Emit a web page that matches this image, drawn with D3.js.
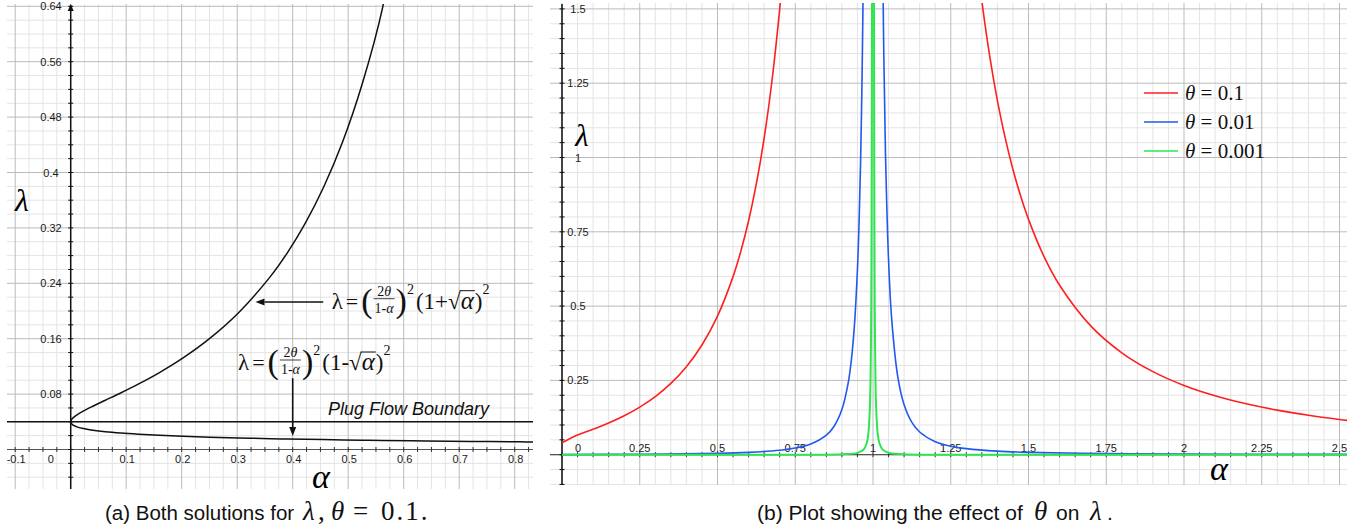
<!DOCTYPE html>
<html>

<head>
  <meta charset="UTF-8">
  <script src="https://d3js.org/d3.v7.min.js"></script>
  <style>
    body { margin: 0; background: #fff; }
  </style>
</head>

<body>
  <div id="chart"></div>

  <script>
    // data

    // (a) both solutions for theta = 0.1
    const leftAlpha = [0, 0.0025, 0.01, 0.0225, 0.04, 0.0625, 0.09, 0.1225, 0.16, 0.2025, 0.25, 0.3025,
      0.36, 0.3906, 0.4225, 0.4556, 0.49, 0.5256, 0.5625, 0.64, 0.7225, 0.81, 0.8464];
    const leftUpper = [0.04, 0.0443, 0.0494, 0.0554, 0.0625, 0.0711, 0.0816, 0.0947, 0.1111, 0.1322, 0.16, 0.1975,
      0.25, 0.2844, 0.3265, 0.3787, 0.4444, 0.5289, 0.64, 1.0, null, null, null];
    const leftLower = [0.04, 0.0363, 0.0331, 0.0302, 0.0278, 0.0256, 0.0237, 0.0220, 0.0204, 0.0190, 0.0178, 0.0167,
      0.0156, 0.0151, 0.0147, 0.0143, 0.0138, 0.0134, 0.0131, 0.0123, 0.0117, 0.0111, 0.0108];
    const plugFlow = 0.04;

    const leftXTicks = [-0.1, 0, 0.1, 0.2, 0.3, 0.4, 0.5, 0.6, 0.7, 0.8];
    const leftXLabels = ['-0.1', '0', '0.1', '0.2', '0.3', '0.4', '0.5', '0.6', '0.7', '0.8'];
    const leftYTicks = [0.08, 0.16, 0.24, 0.32, 0.4, 0.48, 0.56, 0.64];
    const leftYLabels = ['0.08', '0.16', '0.24', '0.32', '0.4', '0.48', '0.56', '0.64'];

    // (b) effect of theta (null = break at the pole)
    const redAlpha = [0, 0.05, 0.1, 0.15, 0.2, 0.25, 0.3, 0.35, 0.4, 0.45, 0.5, 0.55, 0.575, 0.6, 0.625, 0.65, 0.675, 0.7, 0.71,
      null, 1.34, 1.35, 1.375, 1.4, 1.425, 1.45, 1.475, 1.5, 1.55, 1.6, 1.7, 1.8, 1.9, 2.0, 2.1, 2.2, 2.3, 2.4, 2.5, 2.55];
    const redLambda = [0.04, 0.0664, 0.0856, 0.1066, 0.1309, 0.16, 0.1955, 0.2398, 0.2961, 0.3691, 0.4663, 0.5992, 0.6847, 0.7873, 0.9120, 1.0654, 1.2565, 1.4993, 1.6148,
      null, 1.6109, 1.5260, 1.3427, 1.1916, 1.0658, 0.9597, 0.8694, 0.7919, 0.6664, 0.5700, 0.4333, 0.3427, 0.2794, 0.2331, 0.1983, 0.1713, 0.1499, 0.1326, 0.1184, 0.1123];

    const blueAlpha = [0, 0.25, 0.5, 0.6, 0.7, 0.75, 0.8, 0.85, 0.875, 0.9, 0.92, 0.93, 0.94, 0.95, 0.955, 0.96, 0.965, 0.968,
      null, 1.032, 1.035, 1.04, 1.05, 1.06, 1.08, 1.1, 1.125, 1.15, 1.2, 1.25, 1.3, 1.4, 1.5, 1.75, 2.0, 2.5, 2.55];
    const blueLambda = [0.0004, 0.0016, 0.0047, 0.0079, 0.0150, 0.0223, 0.0359, 0.0657, 0.0959, 0.1519, 0.2399, 0.3151, 0.4311, 0.6239, 0.7722, 0.9803, 1.2826, 1.5374,
      null, 1.5882, 1.3288, 1.0203, 0.6557, 0.4578, 0.2599, 0.1679, 0.1087, 0.0764, 0.0439, 0.0287, 0.0204, 0.0119, 0.0079, 0.0038, 0.0023, 0.0012, 0.0011];

    const greenAlpha = [0, 0.5, 0.9, 0.95, 0.97, 0.98, 0.985, 0.99, 0.992, 0.994, 0.995, 0.996, 0.9968,
      null, 1.0032, 1.004, 1.005, 1.006, 1.008, 1.01, 1.015, 1.02, 1.03, 1.05, 1.1, 1.5, 2.55];
    const greenLambda = [0, 0.00005, 0.0015, 0.0062, 0.0175, 0.0396, 0.0705, 0.1594, 0.2488, 0.4444, 0.64, 1.0, 1.5625,
      null, 1.5625, 1.0, 0.64, 0.4444, 0.25, 0.1606, 0.0717, 0.0404, 0.0180, 0.0066, 0.0017, 0.0001, 0];

    const thetaLabels = ['0.1', '0.01', '0.001'];
    const thetaColors = ['#ff1f1f', '#2158f0', '#2ee650'];

    const rightXTicks = [0, 0.25, 0.5, 0.75, 1, 1.25, 1.5, 1.75, 2, 2.25, 2.5];
    const rightXLabels = ['0', '0.25', '0.5', '0.75', '1', '1.25', '1.5', '1.75', '2', '2.25', '2.5'];
    const rightYTicks = [0.25, 0.5, 0.75, 1, 1.25, 1.5];
    const rightYLabels = ['0.25', '0.5', '0.75', '1', '1.25', '1.5'];

    // set up

    const width = 1364, height = 532;
    const sans = '"Liberation Sans", Arial, Helvetica, sans-serif';
    const serif = '"Liberation Serif", "Times New Roman", serif';

    const svg = d3.select('#chart')
      .append('svg')
        .attr('width', width)
        .attr('height', height)
        .style('font-family', sans);

    const leftBox = { x0: 7, x1: 533, y0: 4, y1: 489 };
    const rightBox = { x0: 550, x1: 1347, y0: 3, y1: 485 };

    // scales

    const xL = d3.scaleLinear().domain([0, 0.8]).range([70.7, 514.7]);
    const yL = d3.scaleLinear().domain([0, 0.64]).range([449.5, 6.3]);
    const xR = d3.scaleLinear().domain([0, 2.5]).range([562, 1339.5]);
    const yR = d3.scaleLinear().domain([0, 1.5]).range([454.7, 8.9]);

    // helpers

    function clip(id, box) {
      svg.append('clipPath').attr('id', id)
        .append('rect')
          .attr('x', box.x0).attr('y', box.y0)
          .attr('width', box.x1 - box.x0).attr('height', box.y1 - box.y0);
    }
    clip('clipL', leftBox);
    clip('clipR', rightBox);

    function steps(scale, lo, hi, step) {
      const a = Math.min(scale.invert(lo), scale.invert(hi));
      const b = Math.max(scale.invert(lo), scale.invert(hi));
      const out = [];
      for (let i = Math.ceil(a / step - 1e-9); i * step <= b + 1e-9; i++) out.push({ i, v: i * step });
      return out;
    }

    function grid(g, x, y, box, xMinor, xEvery, yMinor, yEvery) {
      const xs = steps(x, box.x0, box.x1, xMinor);
      const ys = steps(y, box.y1, box.y0, yMinor);
      [false, true].forEach(major => {
        g.append('g')
          .selectAll('line')
          .data(xs.filter(d => (d.i % xEvery === 0) === major))
          .join('line')
            .attr('x1', d => x(d.v)).attr('x2', d => x(d.v))
            .attr('y1', box.y0).attr('y2', box.y1)
            .attr('stroke', major ? '#bbbbbb' : '#e4e4e4')
            .attr('stroke-width', 1);
        g.append('g')
          .selectAll('line')
          .data(ys.filter(d => (d.i % yEvery === 0) === major))
          .join('line')
            .attr('y1', d => y(d.v)).attr('y2', d => y(d.v))
            .attr('x1', box.x0).attr('x2', box.x1)
            .attr('stroke', major ? '#bbbbbb' : '#e4e4e4')
            .attr('stroke-width', 1);
      });
    }

    function axes(g, x, y, box, xMinor, yMinor) {
      // x axis
      g.append('line')
        .attr('x1', box.x0).attr('x2', box.x1)
        .attr('y1', y(0)).attr('y2', y(0))
        .attr('stroke', '#555').attr('stroke-width', 1.2);
      g.append('g')
        .selectAll('line')
        .data(steps(x, box.x0, box.x1, xMinor))
        .join('line')
          .attr('x1', d => x(d.v)).attr('x2', d => x(d.v))
          .attr('y1', y(0) - 2.5).attr('y2', y(0) + 2.5)
          .attr('stroke', '#333');
      // y axis
      g.append('line')
        .attr('x1', x(0)).attr('x2', x(0))
        .attr('y1', box.y0 + 1).attr('y2', box.y1)
        .attr('stroke', '#111').attr('stroke-width', 1.5);
      g.append('g')
        .selectAll('line')
        .data(steps(y, box.y1, box.y0, yMinor))
        .join('line')
          .attr('x1', x(0) - 2.5).attr('x2', x(0) + 2.5)
          .attr('y1', d => y(d.v)).attr('y2', d => y(d.v))
          .attr('stroke', '#111');
    }

    const lineL = d3.line()
      .x(d => xL(d[0])).y(d => yL(d[1]))
      .curve(d3.curveCatmullRom.alpha(0.5));

    const lineR = d3.line()
      .defined(d => d[0] !== null && d[1] !== null)
      .x(d => xR(d[0])).y(d => yR(d[1]))
      .curve(d3.curveCatmullRom.alpha(0.5));

    // ---------- panel (a) ----------

    const gL = svg.append('g');
    const gLc = gL.append('g').attr('clip-path', 'url(#clipL)');
    grid(gLc, xL, yL, leftBox, 0.025, 4, 0.02, 4);
    axes(gLc, xL, yL, leftBox, 0.025, 0.02);

    // arrow head on the y axis
    gL.append('path')
      .attr('d', `M${xL(0)},${leftBox.y0} l-3,7 l6,0 z`)
      .attr('fill', '#111');

    // tick labels
    gLc.append('g')
      .selectAll('text')
      .data(leftXTicks)
      .join('text')
        .attr('x', (d, i) => xL(d) + (d === 0 ? -20 : 1))
        .attr('y', yL(0) + 13)
        .attr('text-anchor', 'middle')
        .attr('font-size', 11)
        .attr('fill', '#1a1a1a')
        .text((d, i) => leftXLabels[i]);

    gL.append('g')
      .selectAll('text')
      .data(leftYTicks)
      .join('text')
        .attr('x', 51)
        .attr('y', d => yL(d) + 4)
        .attr('text-anchor', 'middle')
        .attr('font-size', 11)
        .attr('fill', '#1a1a1a')
        .text((d, i) => leftYLabels[i]);

    // plug flow boundary
    gLc.append('line')
      .attr('x1', leftBox.x0).attr('x2', leftBox.x1)
      .attr('y1', yL(plugFlow)).attr('y2', yL(plugFlow))
      .attr('stroke', '#111').attr('stroke-width', 1.4);

    // both solutions as one path through the turning point at alpha = 0
    const lowerPts = leftAlpha.map((a, i) => [a, leftLower[i]]).reverse();
    const upperPts = leftAlpha.map((a, i) => [a, leftUpper[i]]).filter(d => d[1] !== null).slice(1);
    gLc.append('path')
      .attr('d', lineL(lowerPts.concat(upperPts)))
      .attr('fill', 'none')
      .attr('stroke', '#111')
      .attr('stroke-width', 1.5);

    // axis names
    gL.append('text')
      .attr('x', 22).attr('y', 211)
      .attr('text-anchor', 'middle')
      .attr('font-family', serif).attr('font-style', 'italic')
      .attr('font-size', 32)
      .text('λ');
    gL.append('text')
      .attr('x', 321).attr('y', 488)
      .attr('text-anchor', 'middle')
      .attr('font-family', serif).attr('font-style', 'italic')
      .attr('font-size', 34)
      .text('α');

    gL.append('text')
      .attr('x', 328).attr('y', 415)
      .attr('font-size', 18).attr('font-style', 'italic')
      .attr('fill', '#111')
      .text('Plug Flow Boundary');

    // formulas
    function formula(g, x0, yc, sign) {
      let x = x0;
      function put(str, size, dy, italic) {
        const t = g.append('text')
          .attr('x', x).attr('y', yc + dy)
          .attr('font-family', serif).attr('font-size', size)
          .attr('font-style', italic ? 'italic' : 'normal')
          .attr('fill', '#111')
          .text(str);
        const w = t.node().getComputedTextLength();
        x += w;
        return w;
      }
      put('λ', 23, 7);
      x += 3; put('=', 22, 7); x += 3;
      put('(', 34, 10);
      const fw = 21, fc = x + 1 + fw / 2;
      const num = g.append('text').attr('x', fc).attr('y', yc - 6)
        .attr('text-anchor', 'middle').attr('font-family', serif).attr('font-size', 14).attr('fill', '#111');
      num.append('tspan').text('2');
      num.append('tspan').attr('font-style', 'italic').text('θ');
      const den = g.append('text').attr('x', fc).attr('y', yc + 11)
        .attr('text-anchor', 'middle').attr('font-family', serif).attr('font-size', 14).attr('fill', '#111');
      den.append('tspan').text('1-');
      den.append('tspan').attr('font-style', 'italic').text('α');
      g.append('line')
        .attr('x1', x + 1).attr('x2', x + 1 + fw)
        .attr('y1', yc - 3).attr('y2', yc - 3)
        .attr('stroke', '#111').attr('stroke-width', 0.8);
      x += fw + 2;
      put(')', 34, 10);
      put('2', 14, -8);
      x += 2;
      put('(1' + sign, 23, 7);
      put('√', 23, 7);
      const ax = x;
      const aw = put('α', 25, 7, true);
      g.append('line')
        .attr('x1', ax - 1).attr('x2', ax + aw + 1)
        .attr('y1', yc - 11).attr('y2', yc - 11)
        .attr('stroke', '#111').attr('stroke-width', 1);
      x += 1;
      put(')', 23, 7);
      put('2', 14, -8);
    }

    formula(gL, 331.7, 301.7, '+');
    formula(gL, 238, 363, '-');

    // arrows
    function arrow(g, x1, y1, x2, y2) {
      const ang = Math.atan2(y2 - y1, x2 - x1);
      const len = 9, half = 3.5;
      const bx = x2 - len * Math.cos(ang), by = y2 - len * Math.sin(ang);
      g.append('line')
        .attr('x1', x1).attr('y1', y1).attr('x2', bx).attr('y2', by)
        .attr('stroke', '#111').attr('stroke-width', 1.6);
      g.append('path')
        .attr('d', `M${x2},${y2} L${bx - half * Math.sin(ang)},${by + half * Math.cos(ang)} L${bx + half * Math.sin(ang)},${by - half * Math.cos(ang)} Z`)
        .attr('fill', '#111');
    }
    arrow(gL, xL(0.455), yL(0.213), xL(0.333), yL(0.213));
    arrow(gL, xL(0.4), yL(0.103), xL(0.4), yL(0.0195));

    // ---------- panel (b) ----------

    const gR = svg.append('g');
    const gRc = gR.append('g').attr('clip-path', 'url(#clipR)');
    grid(gRc, xR, yR, rightBox, 0.05, 5, 0.05, 5);
    axes(gRc, xR, yR, rightBox, 0.05, 0.05);

    gRc.append('g')
      .selectAll('text')
      .data(rightXTicks)
      .join('text')
        .attr('x', d => xR(d) + (d === 0 ? 16 : 0))
        .attr('y', yR(0) - 3)
        .attr('text-anchor', 'middle')
        .attr('font-size', 11)
        .attr('fill', '#1a1a1a')
        .text((d, i) => rightXLabels[i]);

    gRc.append('g')
      .selectAll('text')
      .data(rightYTicks)
      .join('text')
        .attr('x', xR(0) + 16)
        .attr('y', d => yR(d) + 4)
        .attr('text-anchor', 'middle')
        .attr('font-size', 11)
        .attr('fill', '#1a1a1a')
        .text((d, i) => rightYLabels[i]);

    const series = [
      [redAlpha, redLambda],
      [blueAlpha, blueLambda],
      [greenAlpha, greenLambda]
    ];

    gRc.append('g')
      .selectAll('path')
      .data(series)
      .join('path')
        .attr('d', d => lineR(d[0].map((a, i) => [a, d[1][i]])))
        .attr('fill', 'none')
        .attr('stroke', (d, i) => thetaColors[i])
        .attr('stroke-width', (d, i) => i === 2 ? 2 : 1.6);

    // legend
    const legend = gR.append('g')
      .selectAll('g')
      .data(thetaLabels)
      .join('g')
        .attr('transform', (d, i) => `translate(1144,${93 + i * 29})`);
    legend.append('line')
      .attr('x1', 0).attr('x2', 34)
      .attr('stroke', (d, i) => thetaColors[i])
      .attr('stroke-width', 1.6);
    const lt = legend.append('text')
      .attr('x', 41).attr('y', 7)
      .attr('font-family', serif).attr('font-size', 21)
      .attr('fill', '#111');
    lt.append('tspan').attr('font-style', 'italic').text('θ');
    lt.append('tspan').text(d => ' = ' + d);

    gR.append('text')
      .attr('x', 582).attr('y', 146)
      .attr('text-anchor', 'middle')
      .attr('font-family', serif).attr('font-style', 'italic')
      .attr('font-size', 31)
      .text('λ');
    gR.append('text')
      .attr('x', 1219).attr('y', 480)
      .attr('text-anchor', 'middle')
      .attr('font-family', serif).attr('font-style', 'italic')
      .attr('font-size', 34)
      .text('α');

    // ---------- captions ----------

    function mathSpan(t, x, str, italic, extra) {
      const s = t.append('tspan')
        .attr('x', x)
        .attr('font-family', serif)
        .attr('font-size', 27)
        .attr('font-style', italic ? 'italic' : 'normal')
        .text(str);
      if (extra) s.attr('letter-spacing', extra);
      return s;
    }

    const capA = svg.append('text')
      .attr('x', 105).attr('y', 520)
      .attr('font-size', 20.5).attr('fill', '#111');
    capA.append('tspan').text('(a) Both solutions for');
    mathSpan(capA, 303, 'λ', true);
    mathSpan(capA, 318, ',', false);
    mathSpan(capA, 331, 'θ', true);
    mathSpan(capA, 353, '=', false);
    mathSpan(capA, 381, '0.1.', false, 2);

    const capB = svg.append('text')
      .attr('x', 757).attr('y', 520)
      .attr('font-size', 21).attr('fill', '#111');
    capB.append('tspan').text('(b) Plot showing the effect of');
    mathSpan(capB, 1034, 'θ', true);
    capB.append('tspan').attr('x', 1056).text('on');
    mathSpan(capB, 1090, 'λ', true);
    capB.append('tspan').attr('x', 1107).text('.');
  </script>
</body>

</html>
